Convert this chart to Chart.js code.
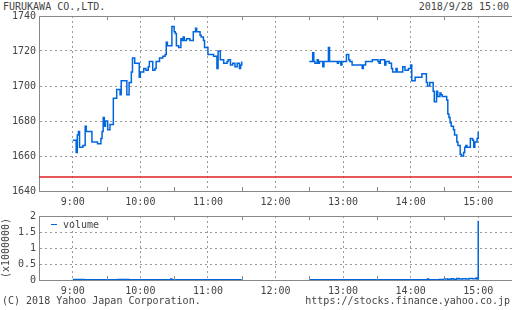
<!DOCTYPE html>
<html lang="ja">
<head>
  <meta charset="UTF-8" />
  <title>FURUKAWA CO.,LTD.</title>
  <style>
    body {
      margin: 0;
      width: 512px;
      height: 310px;
      background: #fff;
      position: relative;
      overflow: hidden;
      font-family: "DejaVu Sans Mono", monospace;
      font-size: 10px;
      color: #444;
    }
    .txt { position: absolute; line-height: 12px; white-space: pre; }
    canvas { position: absolute; left: 0; }
  </style>
</head>
<body>
  <div class="txt" style="left:3px; top:1px;">FURUKAWA CO.,LTD.</div>
  <div class="txt" style="right:3px; top:1px;">2018/9/28 15:00</div>

  <canvas id="priceChart" width="512" height="206" style="top:0;"></canvas>
  <canvas id="volumeChart" width="512" height="104" style="top:206px;"></canvas>

  <div class="txt" style="left:51px; top:219px;"><span style="display:inline-block;width:6px;height:1px;background:#0066dd;vertical-align:middle;margin-bottom:1px;"></span> volume</div>

  <div class="txt" style="left:2px; top:295px;">(C) 2018 Yahoo Japan Corporation.</div>
  <div class="txt" style="right:2px; top:295px;">https://stocks.finance.yahoo.co.jp</div>

  <script src="https://cdn.jsdelivr.net/npm/chart.js"></script>
  <script>
    // ---- data ----
    const amTimes = ['9:00','9:03','9:04','9:05','9:06','9:09','9:11','9:12','9:17','9:22','9:25','9:26','9:27','9:28','9:29','9:31',
      '9:33','9:36','9:39','9:42','9:43','9:48','9:50','9:52','9:53','9:55','9:59','10:00','10:03','10:05','10:07','10:08',
      '10:11','10:13','10:14','10:17','10:20','10:22','10:23','10:24','10:28','10:30','10:31','10:32','10:34','10:36','10:37',
      '10:38','10:39','10:41','10:44','10:47','10:49','10:50','10:53','10:54','10:56','10:57','11:00','11:05','11:08','11:09',
      '11:11','11:14','11:17','11:18','11:20','11:22','11:24','11:26','11:28','11:29','11:30'];
    const amPrices = [1669,1662,1672,1674,1665,1666,1677,1674,1668,1667,1670,1674,1682,1677,1680,1675,1678,
      1693,1698,1695,1703,1695,1702,1708,1716,1713,1705,1708,1710,1709,1711,1714,1709,
      1710,1714,1716,1717,1718,1725,1723,1734,1731,1730,1723,1722,1727,1726,1728,
      1726,1727,1726,1731,1733,1731,1729,1728,1726,1722,1718,1717,1710,1720,1715,
      1713,1714,1715,1712,1713,1711,1713,1710,1712,1714,1714];

    const pmTimes = ['12:30','12:33','12:34','12:35','12:37','12:38','12:39','12:42','12:43','12:47','12:48','12:55','12:56',
      '12:58','12:59','13:03','13:05','13:06','13:08','13:17','13:18','13:20','13:26','13:31','13:32','13:33','13:37','13:38',
      '13:41','13:43','13:44','13:47','13:48','13:53','13:55','13:58','14:00','14:01','14:04','14:10','14:14','14:15','14:17',
      '14:20','14:21','14:23','14:24','14:26','14:27','14:28','14:32','14:33','14:34','14:35','14:36','14:38','14:39','14:41',
      '14:42','14:44','14:45','14:47','14:48','14:49','14:50','14:53','14:55','14:56','14:57','14:59','15:00'];
    const pmPrices = [1714,1719,1714,1713,1715,1713,1714,1711,1714,1722,1714,1713,1714,
      1712,1714,1718,1715,1714,1712,1710,1712,1714,1715,1714,1713,1715,1712,1714,
      1713,1710,1708,1710,1708,1711,1709,1710,1712,1703,1705,1707,1702,1700,1702,
      1697,1691,1697,1694,1696,1695,1694,1692,1684,1682,1679,1677,1675,1672,1668,
      1666,1661,1660,1662,1665,1666,1665,1670,1669,1665,1668,1670,1674];

    const prevClose = 1648;

    const volAmTimes = ['9:00','9:10','9:20','9:30','9:40','9:50','10:00','10:10','10:20','10:27','10:28','10:40','10:50','11:00','11:10','11:20','11:30'];
    const volAmValues = [0.012,0.008,0.01,0.008,0.012,0.008,0.01,0.006,0.008,0.03,0.008,0.006,0.008,0.006,0.008,0.006,0.006];
    const volPmTimes = ['12:30','12:40','12:50','13:00','13:10','13:20','13:30','13:40','13:50','14:00','14:10','14:15','14:16','14:25',
      '14:30','14:33','14:36','14:38','14:41','14:43','14:46','14:49','14:52','14:55','14:58','14:59','15:00'];
    const volPmValues = [0.008,0.006,0.008,0.006,0.008,0.006,0.008,0.006,0.008,0.01,0.01,0.03,0.01,0.012,
      0.03,0.02,0.04,0.02,0.05,0.03,0.04,0.03,0.05,0.04,0.06,0.03,1.85];

    const xMinLabel = '8:30';
    const xMaxLabel = '15:30';
    const priceTicks = [1640, 1740, 20];
    const volTicks = [0, 2, 0.5];

    // ---- helpers ----
    function toMin(s) {
      const [h, m] = s.split(':').map(Number);
      return h * 60 + m;
    }
    function fmt(v) {
      return Math.floor(v / 60) + ':' + String(v % 60).padStart(2, '0');
    }
    function pts(times, vals) {
      return times.map((t, i) => ({ x: toMin(t), y: vals[i] }));
    }

    const BLUE = '#0066dd';
    const GRID = '#999';
    const AXIS = '#888';
    const xMin = toMin(xMinLabel), xMax = toMin(xMaxLabel);

    Chart.defaults.font = { family: '"DejaVu Sans Mono", monospace', size: 10 };
    Chart.defaults.color = '#444';
    Chart.defaults.animation = false;

    // top border and half-hour tick marks
    const framePlugin = {
      id: 'frame',
      afterDraw(chart) {
        const { ctx, chartArea: a, scales: { x } } = chart;
        ctx.save();
        ctx.strokeStyle = AXIS;
        ctx.lineWidth = 1;
        ctx.beginPath();
        ctx.moveTo(a.left, Math.round(a.top) + 0.5);
        ctx.lineTo(a.right, Math.round(a.top) + 0.5);
        x.ticks.forEach(t => {
          if (t.value % 60 !== 30 || t.value <= xMin || t.value >= xMax) return;
          const px = Math.round(x.getPixelForValue(t.value)) + 0.5;
          ctx.moveTo(px, a.bottom);
          ctx.lineTo(px, a.bottom - 4);
          ctx.moveTo(px, a.top);
          ctx.lineTo(px, a.top + 4);
        });
        ctx.stroke();
        ctx.restore();
      }
    };

    function xScale(height) {
      return {
        type: 'linear',
        min: xMin,
        max: xMax,
        afterFit: s => {
          s.height = height;
          s.paddingLeft = 0;
          s.paddingRight = 0;
        },
        ticks: {
          stepSize: 30,
          autoSkip: false,
          maxRotation: 0,
          padding: 5,
          callback: v => (v % 60 === 0 ? fmt(v) : '')
        },
        grid: {
          drawTicks: false,
          color: c => (c.tick && c.tick.value % 60 === 0 ? GRID : 'rgba(0,0,0,0)')
        },
        border: { color: AXIS, width: 1, dash: [2, 3] }
      };
    }

    function yScale(range, title) {
      const [lo, hi, step] = range;
      return {
        min: lo,
        max: hi,
        afterFit: s => { s.width = 39; },
        ticks: { stepSize: step, padding: 3, autoSkip: false, callback: v => String(v) },
        grid: {
          drawTicks: false,
          color: c => (c.tick && c.tick.value > lo && c.tick.value < hi ? GRID : 'rgba(0,0,0,0)')
        },
        border: { color: AXIS, width: 1, dash: [2, 3] },
        title: title ? { display: true, text: title, padding: 0 } : { display: false }
      };
    }

    const lineStyle = { borderColor: BLUE, borderWidth: 1.5, pointRadius: 0, stepped: true, fill: false };

    new Chart(document.getElementById('priceChart'), {
      type: 'line',
      data: {
        datasets: [
          { data: [{ x: xMin, y: prevClose }, { x: xMax, y: prevClose }], borderColor: '#e02020', borderWidth: 1.3, pointRadius: 0 },
          { ...lineStyle, data: pts(amTimes, amPrices) },
          { ...lineStyle, data: pts(pmTimes, pmPrices) }
        ]
      },
      options: {
        responsive: false,
        events: [],
        layout: { padding: { top: 16, left: 0, right: 0, bottom: 0 } },
        plugins: { legend: { display: false }, tooltip: { enabled: false } },
        scales: { x: xScale(15), y: yScale(priceTicks) }
      },
      plugins: [framePlugin]
    });

    new Chart(document.getElementById('volumeChart'), {
      type: 'line',
      data: {
        datasets: [
          { ...lineStyle, label: 'volume', data: pts(volAmTimes, volAmValues) },
          { ...lineStyle, data: pts(volPmTimes, volPmValues) }
        ]
      },
      options: {
        responsive: false,
        events: [],
        layout: { padding: { top: 10, left: 0, right: 0, bottom: 0 } },
        plugins: { legend: { display: false }, tooltip: { enabled: false } },
        scales: { x: xScale(30), y: yScale(volTicks, '(x1000000)') }
      },
      plugins: [framePlugin]
    });
  </script>
</body>
</html>
